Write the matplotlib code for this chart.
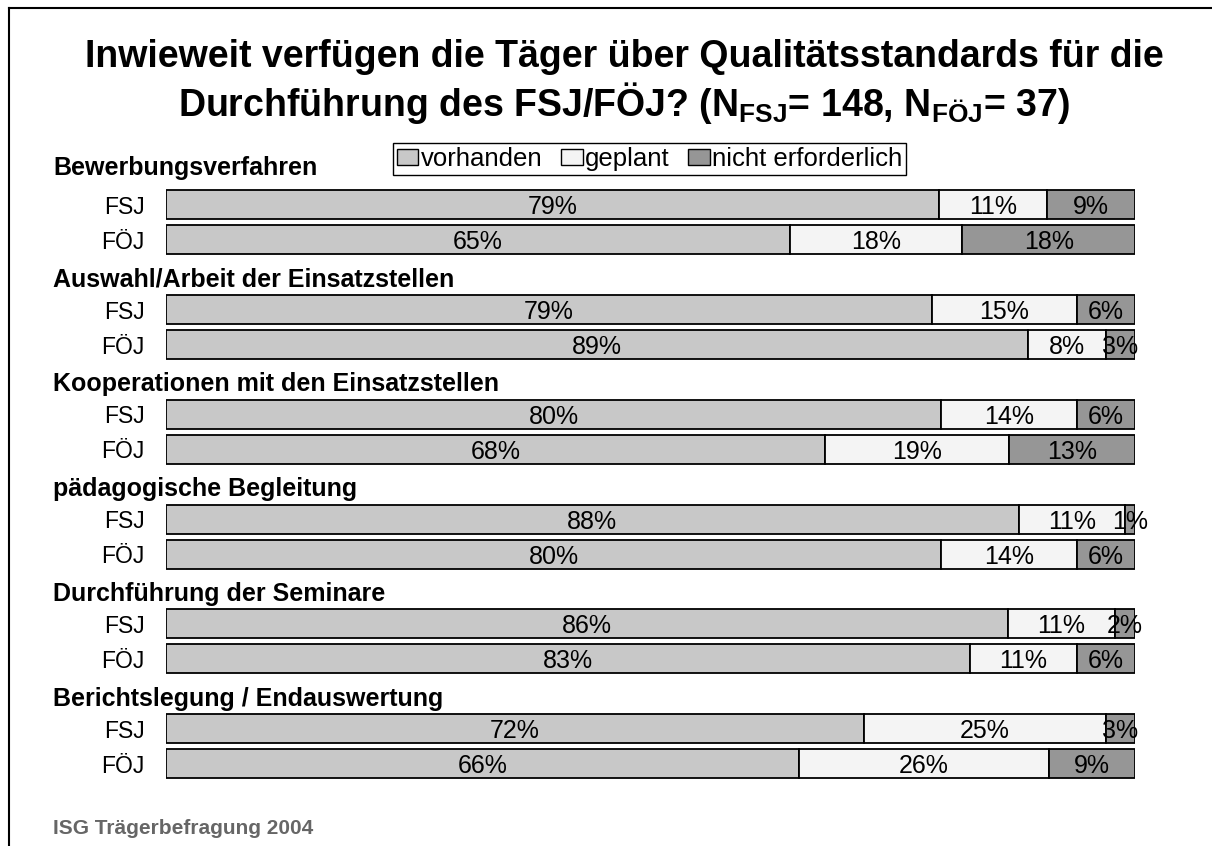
import numpy as np
import matplotlib
matplotlib.use("Agg")
import matplotlib.pyplot as plt
from matplotlib.patches import Patch
from matplotlib.lines import Line2D
from matplotlib.transforms import blended_transform_factory

plt.rcParams['font.family'] = ['Liberation Sans', 'DejaVu Sans']
plt.rcParams['mathtext.fontset'] = 'custom'
plt.rcParams['mathtext.rm'] = 'Liberation Sans'
plt.rcParams['mathtext.it'] = 'Liberation Sans:italic'
plt.rcParams['mathtext.bf'] = 'Liberation Sans:bold'

# data (percent labels as printed; bars are scaled to 100 %)
groups = ["Bewerbungsverfahren", "Auswahl/Arbeit der Einsatzstellen",
          "Kooperationen mit den Einsatzstellen", "pädagogische Begleitung",
          "Durchführung der Seminare", "Berichtslegung / Endauswertung"]
rows = ["FSJ", "FÖJ"]
series = ["vorhanden", "geplant", "nicht erforderlich"]
vorhanden = [79, 65, 79, 89, 80, 68, 88, 80, 86, 83, 72, 66]
geplant = [11, 18, 15, 8, 14, 19, 11, 14, 11, 11, 25, 26]
nicht_erf = [9, 18, 6, 3, 6, 13, 1, 6, 2, 6, 3, 9]

colors = ["#c8c8c8", "#f4f4f4", "#969696"]

W, H = 1212, 846
fig = plt.figure(figsize=(W / 100, H / 100), dpi=100)

# bar area
x0, x1 = 166, 1135
y_top, y_bot = 152.6, 781
ax = fig.add_axes([x0 / W, 1 - y_bot / H, (x1 - x0) / W, (y_bot - y_top) / H])

pos = []
for g in range(len(groups)):
    pos += [3 * g, 3 * g + 1]
pos = np.array(pos, dtype=float)

vals = np.array([vorhanden, geplant, nicht_erf], dtype=float)
share = vals / vals.sum(axis=0) * 100

left = np.zeros(len(pos))
for i in range(3):
    bars = ax.barh(pos, share[i], left=left, height=0.83, color=colors[i],
                   edgecolor="black", linewidth=1.3)
    txts = ax.bar_label(bars, labels=[f"{int(v)}%" for v in vals[i]],
                        label_type="center", fontsize=18)
    for t in txts:
        t.set_va("center_baseline")
    left += share[i]

ax.set_xlim(0, 100)
ax.set_ylim(16.5, -1.5)
ax.set_xticks([])
ax.set_yticks(pos)
ax.set_yticklabels(rows * len(groups), fontsize=16.5)
ax.tick_params(axis="y", length=0, pad=15.5)
for s in ax.spines.values():
    s.set_visible(False)

# group headers
trans = blended_transform_factory(fig.transFigure, ax.transData)
for g, name in enumerate(groups):
    off = -1.06 if g == 0 else -0.86
    ax.text(53 / W, 3 * g + off, name, transform=trans, ha="left", va="center",
            fontsize=18, fontweight="bold")

# legend
handles = [Patch(facecolor=c, edgecolor="black", linewidth=1.0) for c in colors]
leg = fig.legend(handles, series, loc="center", ncol=3,
                 bbox_to_anchor=(649.5 / W, 1 - 159 / H), fontsize=18.5,
                 handlelength=0.85, handleheight=0.55, handletextpad=0.1,
                 columnspacing=0.7, borderpad=0.15, fancybox=False,
                 framealpha=1, edgecolor="black")
leg.get_frame().set_linewidth(1.0)

# title
fig.text(624 / W, 1 - 57 / H,
         "Inwieweit verfügen die Täger über Qualitätsstandards für die",
         ha="center", va="center", fontsize=27, fontweight="bold")
fig.text(624 / W, 1 - 103 / H,
         "Durchführung des FSJ/FÖJ? (N$_{\\mathbf{FSJ}}$= 148, N$_{\\mathbf{FÖJ}}$= 37)",
         ha="center", va="center", fontsize=27, fontweight="bold")

# footer
fig.text(53 / W, 1 - 828 / H, "ISG Trägerbefragung 2004", ha="left", va="center",
         fontsize=15, fontweight="bold", color="#666666")

# frame lines (left and top)
fig.add_artist(Line2D([8.5 / W, 8.5 / W], [0, 1 - 8.5 / H], color="black",
                      linewidth=1.5, transform=fig.transFigure))
fig.add_artist(Line2D([8.5 / W, 1], [1 - 8.5 / H, 1 - 8.5 / H], color="black",
                      linewidth=1.5, transform=fig.transFigure))

fig.savefig("out.png", dpi=100)
